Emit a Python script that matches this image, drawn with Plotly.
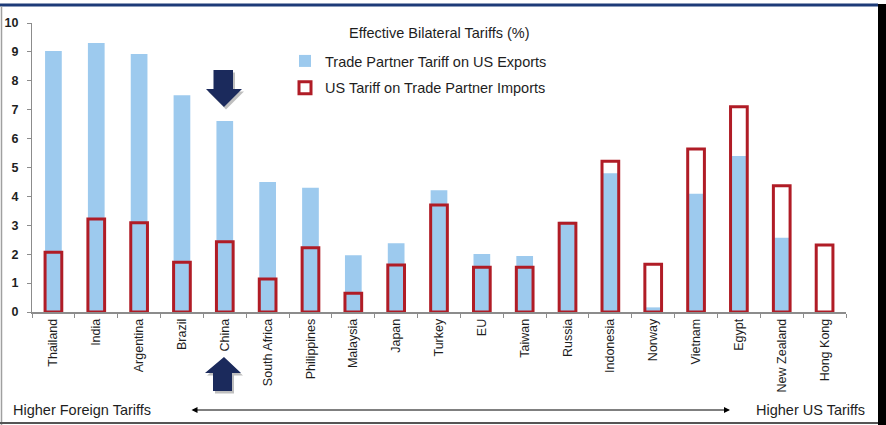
import plotly.graph_objects as go

countries = ["Thailand", "India", "Argentina", "Brazil", "China", "South Africa",
             "Philippines", "Malaysia", "Japan", "Turkey", "EU", "Taiwan", "Russia",
             "Indonesia", "Norway", "Vietnam", "Egypt", "New Zealand", "Hong Kong"]
partner_tariff = [9.03, 9.31, 8.93, 7.50, 6.61, 4.50, 4.30, 1.96, 2.38, 4.21,
                  2.01, 1.94, 3.12, 4.80, 0.16, 4.09, 5.40, 2.57, 0.0]
us_tariff = [2.07, 3.22, 3.09, 1.72, 2.43, 1.14, 2.22, 0.65, 1.63, 3.70,
             1.55, 1.55, 3.07, 5.22, 1.65, 5.64, 7.10, 4.37, 2.32]
y_ticks = list(range(0, 11))

W, H = 886, 425
L, R, T, B = 32, 40, 23, 113
PW, PH = W - L - R, H - T - B

def px(x):
    return (x - L) / PW

def py(y):
    return (H - B - y) / PH

def path(points):
    s = "M " + " L ".join(f"{px(a):.5f},{py(b):.5f}" for a, b in points) + " Z"
    return s

BLUE = "#9dcaee"
RED = "#b01c26"
NAVY = "#1b2a5c"
FONT = "Liberation Sans, Arial, sans-serif"
TXT = "#1e1e1e"

fig = go.Figure()
fig.add_trace(go.Bar(
    x=countries, y=partner_tariff, name="Trade Partner Tariff on US Exports",
    marker=dict(color=BLUE, line=dict(width=0)), width=0.39,
    legendgroup="a",
))
fig.add_trace(go.Bar(
    x=countries, y=us_tariff, name="US Tariff on Trade Partner Imports",
    marker=dict(color="rgba(0,0,0,0)", line=dict(color=RED, width=3)), width=0.39,
    legendgroup="b",
))

axis_font = dict(family=FONT, size=12.5, color=TXT, weight="bold")
fig.update_layout(
    width=W, height=H,
    margin=dict(l=L, r=R, t=T, b=B, pad=0, autoexpand=False),
    paper_bgcolor="white", plot_bgcolor="white",
    barmode="overlay",
    showlegend=True,
    legend=dict(
        x=px(285), y=py(45), xanchor="left", yanchor="top",
        bgcolor="rgba(0,0,0,0)",
        font=dict(family=FONT, size=14.5, color=TXT),
        traceorder="grouped", tracegroupgap=5,
        itemwidth=30,
    ),
    xaxis=dict(
        type="category", tickangle=-90, automargin=False,
        tickfont=dict(family=FONT, size=12.5, color=TXT),
        ticks="outside", tickson="boundaries", ticklen=4, tickcolor="#8c8c8c",
        showline=True, linecolor="#8c8c8c", linewidth=1.5,
        showgrid=False, zeroline=False,
    ),
    yaxis=dict(
        range=[0, 10], tickvals=y_ticks, tickfont=axis_font, automargin=False,
        ticks="outside", ticklen=4, tickcolor="#8c8c8c", ticklabelstandoff=6,
        showline=True, linecolor="#8c8c8c", linewidth=1,
        showgrid=False, zeroline=False,
    ),
    yaxis2=dict(
        range=[0, 10], tickvals=y_ticks, tickfont=axis_font, automargin=False,
        overlaying="y", side="right",
        ticks="outside", ticklen=4, tickcolor="#8c8c8c", ticklabelstandoff=5,
        showline=True, linecolor="#8c8c8c", linewidth=1,
        showgrid=False, zeroline=False,
    ),
)

shapes = []
# frame
shapes.append(dict(type="line", xref="paper", yref="paper", x0=px(0), x1=px(878), y0=py(5), y1=py(5),
                   line=dict(color="#1d3b78", width=3)))
shapes.append(dict(type="line", xref="paper", yref="paper", x0=px(1.5), x1=px(1.5), y0=py(6), y1=py(425),
                   line=dict(color="#a0a0a0", width=1.5)))
shapes.append(dict(type="line", xref="paper", yref="paper", x0=px(0), x1=px(878), y0=py(423), y1=py(423),
                   line=dict(color="#555555", width=2)))
shapes.append(dict(type="rect", xref="paper", yref="paper", x0=px(878), x1=px(887), y0=py(4), y1=py(426),
                   fillcolor="black", line=dict(width=0)))

# block arrows near China (decoration)
down = [(213.5, 70), (233, 70), (233, 89), (242, 89), (224, 107), (206, 89), (213.5, 89)]
up = [(224, 357), (241, 373), (232, 373), (232, 391), (213, 391), (213, 373), (205, 373)]
for pts in (down, up):
    shadow = [(a + 2, b + 2.5) for a, b in pts]
    shapes.append(dict(type="path", xref="paper", yref="paper", path=path(shadow),
                       fillcolor="rgba(0,0,0,0.25)", line=dict(width=0)))
    shapes.append(dict(type="path", xref="paper", yref="paper", path=path(pts),
                       fillcolor=NAVY, line=dict(width=0)))
fig.update_layout(shapes=shapes)

ann_font = dict(family=FONT, size=14.5, color=TXT)
fig.add_annotation(text="Effective Bilateral Tariffs (%)", xref="paper", yref="paper",
                   x=px(439), y=py(33), xanchor="center", yanchor="middle",
                   showarrow=False, font=ann_font)
fig.add_annotation(text="Higher Foreign Tariffs", xref="paper", yref="paper",
                   x=px(11), y=py(410), xanchor="left", yanchor="middle",
                   showarrow=False, font=ann_font)
fig.add_annotation(text="Higher US Tariffs", xref="paper", yref="paper",
                   x=px(867), y=py(410), xanchor="right", yanchor="middle",
                   showarrow=False, font=ann_font)
fig.add_annotation(text="", xref="paper", yref="paper", x=px(730), y=py(410),
                   ax=-540, ay=0, showarrow=True, arrowhead=2, arrowside="end+start",
                   arrowsize=1.2, arrowwidth=1, arrowcolor="black")

fig.write_html("out.html")
